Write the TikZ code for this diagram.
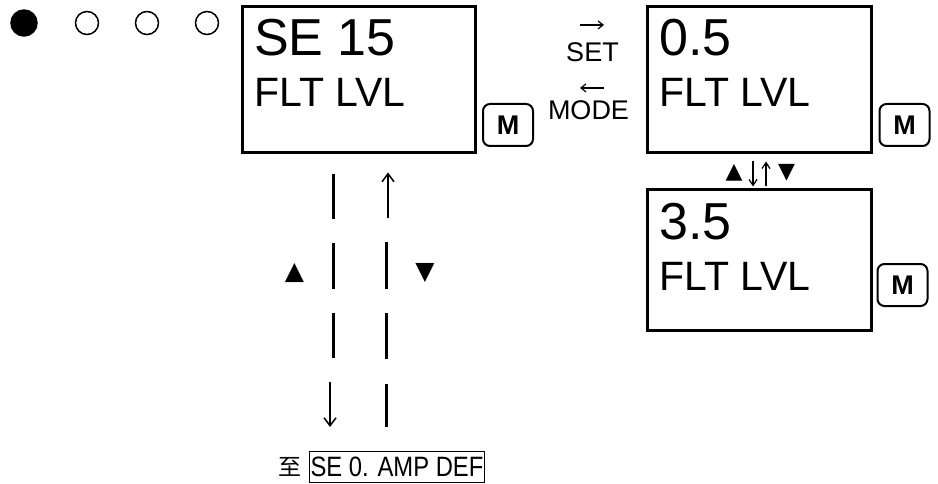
\documentclass[tikz,border=0pt]{standalone}
\usepackage{fontspec}
\setmainfont{Liberation Sans}
\newfontfamily\symfont{DejaVu Sans}
\newfontfamily\narrowfont{Liberation Sans}[FakeStretch=0.85]
\newfontfamily\cjkfont{Noto Sans CJK SC}
\usetikzlibrary{arrows.meta, positioning, calc}

\tikzset{
  lcdbox/.style={rectangle, draw, line width=3pt, inner sep=0pt},
  mkey/.style={rectangle, rounded corners=7pt, draw, line width=2pt, minimum width=50pt, minimum height=42pt, inner sep=0pt, font=\fontsize{27}{27}\selectfont\bfseries},
  lcdbig/.style={anchor=base west, inner sep=0pt, font=\fontsize{52}{52}\selectfont},
  lcdsmall/.style={anchor=base west, inner sep=0pt, font=\fontsize{41}{41}\selectfont},
  keytxt/.style={inner sep=0pt, font=\fontsize{27}{27}\selectfont},
  keyarrow/.style={line width=1.2pt, -{Straight Barb[length=5pt,width=8pt]}},
  trisym/.style={inner sep=0pt, font=\symfont\fontsize{25}{25}\selectfont},
  barline/.style={line width=3pt},
  tipline/.style={line width=1.5pt, -{Straight Barb[length=8pt,width=12pt]}},
  led/.style={circle, draw, line width=1.5pt, minimum size=23pt, inner sep=0pt},
}

\begin{document}
\begin{tikzpicture}[x=1pt, y=-1pt]
  \useasboundingbox (0,0) rectangle (938,484);

  % mode indicators
  \node[led, fill=black, minimum size=26pt] (led1) at (24,23) {};
  \node[led] (led2) at (87,23) {};
  \node[led] (led3) at (147,23) {};
  \node[led] (led4) at (207,23) {};

  % displays
  \node[lcdbox, minimum width=233pt, minimum height=146pt] (se15) at (359,79.5) {};
  \node[lcdbig] at (254,56) {SE 15};
  \node[lcdsmall] at (254,107) {FLT LVL};
  \node[mkey] (key1) at (508,125) {M};

  \node[lcdbox, minimum width=224pt, minimum height=146pt] (val05) at (759.5,79.5) {};
  \node[lcdbig] at (659,56) {0.5};
  \node[lcdsmall] at (659,107) {FLT LVL};
  \node[mkey] (key2) at (904.5,125) {M};

  \node[lcdbox, minimum width=224pt, minimum height=141pt] (val35) at (759.5,260) {};
  \node[lcdbig] at (659,240) {3.5};
  \node[lcdsmall] at (659,290) {FLT LVL};
  \node[mkey] (key3) at (902.5,285) {M};

  % set / mode keys
  \node[keytxt, anchor=base] (setlbl) at (592.5,62) {SET};
  \node[keytxt, anchor=base] (modelbl) at (588.5,120) {MODE};
  \draw[keyarrow] ($(setlbl.north)+(-12.5,-18)$) -- ++(24,0);
  \draw[keyarrow] ($(setlbl.north)+(11.5,45)$) -- ++(-24,0);

  % up / down between values
  \node[trisym, font=\symfont\fontsize{22}{22}\selectfont] (upsm) at (734,173) {▲};
  \node[trisym, font=\symfont\fontsize{22}{22}\selectfont] (dnsm) at (786.5,173) {▼};
  \draw[line width=1.2pt, -{Straight Barb[length=6pt,width=8pt]}]
    ($(val05.south)+(-6.5,7.5)$) -- ($(val35.north)+(-6.5,-1.5)$);
  \draw[line width=1.2pt, -{Straight Barb[length=6pt,width=8pt]}]
    ($(val35.north)+(6.5,-1.5)$) -- ($(val05.south)+(6.5,7.5)$);

  % target
  \node[rectangle, draw, line width=1.5pt, minimum width=170pt, minimum height=31pt, inner sep=1pt,
    font=\narrowfont\fontsize{28}{28}\selectfont] (amp) at (397,467) {SE 0. AMP DEF};
  \node[left=7pt of amp, inner sep=0pt, font=\cjkfont\fontsize{23}{23}\selectfont] (zhi) {至};

  % scroll to target
  \node[trisym] (uplg) at (294.5,273.5) {▲};
  \node[trisym] (dnlg) at (425,273.5) {▼};
  \draw[barline, dash pattern=on 45pt off 24pt]
    ($(se15.south)+(-26,20.5)$) -- ($(se15.south)+(-26,203.5)$);
  \draw[tipline] ($(amp.north)+(-67,-68.75)$) -- ($(amp.north)+(-67,-23.75)$);
  \draw[tipline] ($(se15.south)+(29,64.5)$) -- ($(se15.south)+(29,18.5)$);
  \draw[barline, dash pattern=on 46pt off 24.5pt]
    ($(se15.south)+(27,88.5)$) -- ($(amp.north)+(-11,-23.75)$);
\end{tikzpicture}
\end{document}
